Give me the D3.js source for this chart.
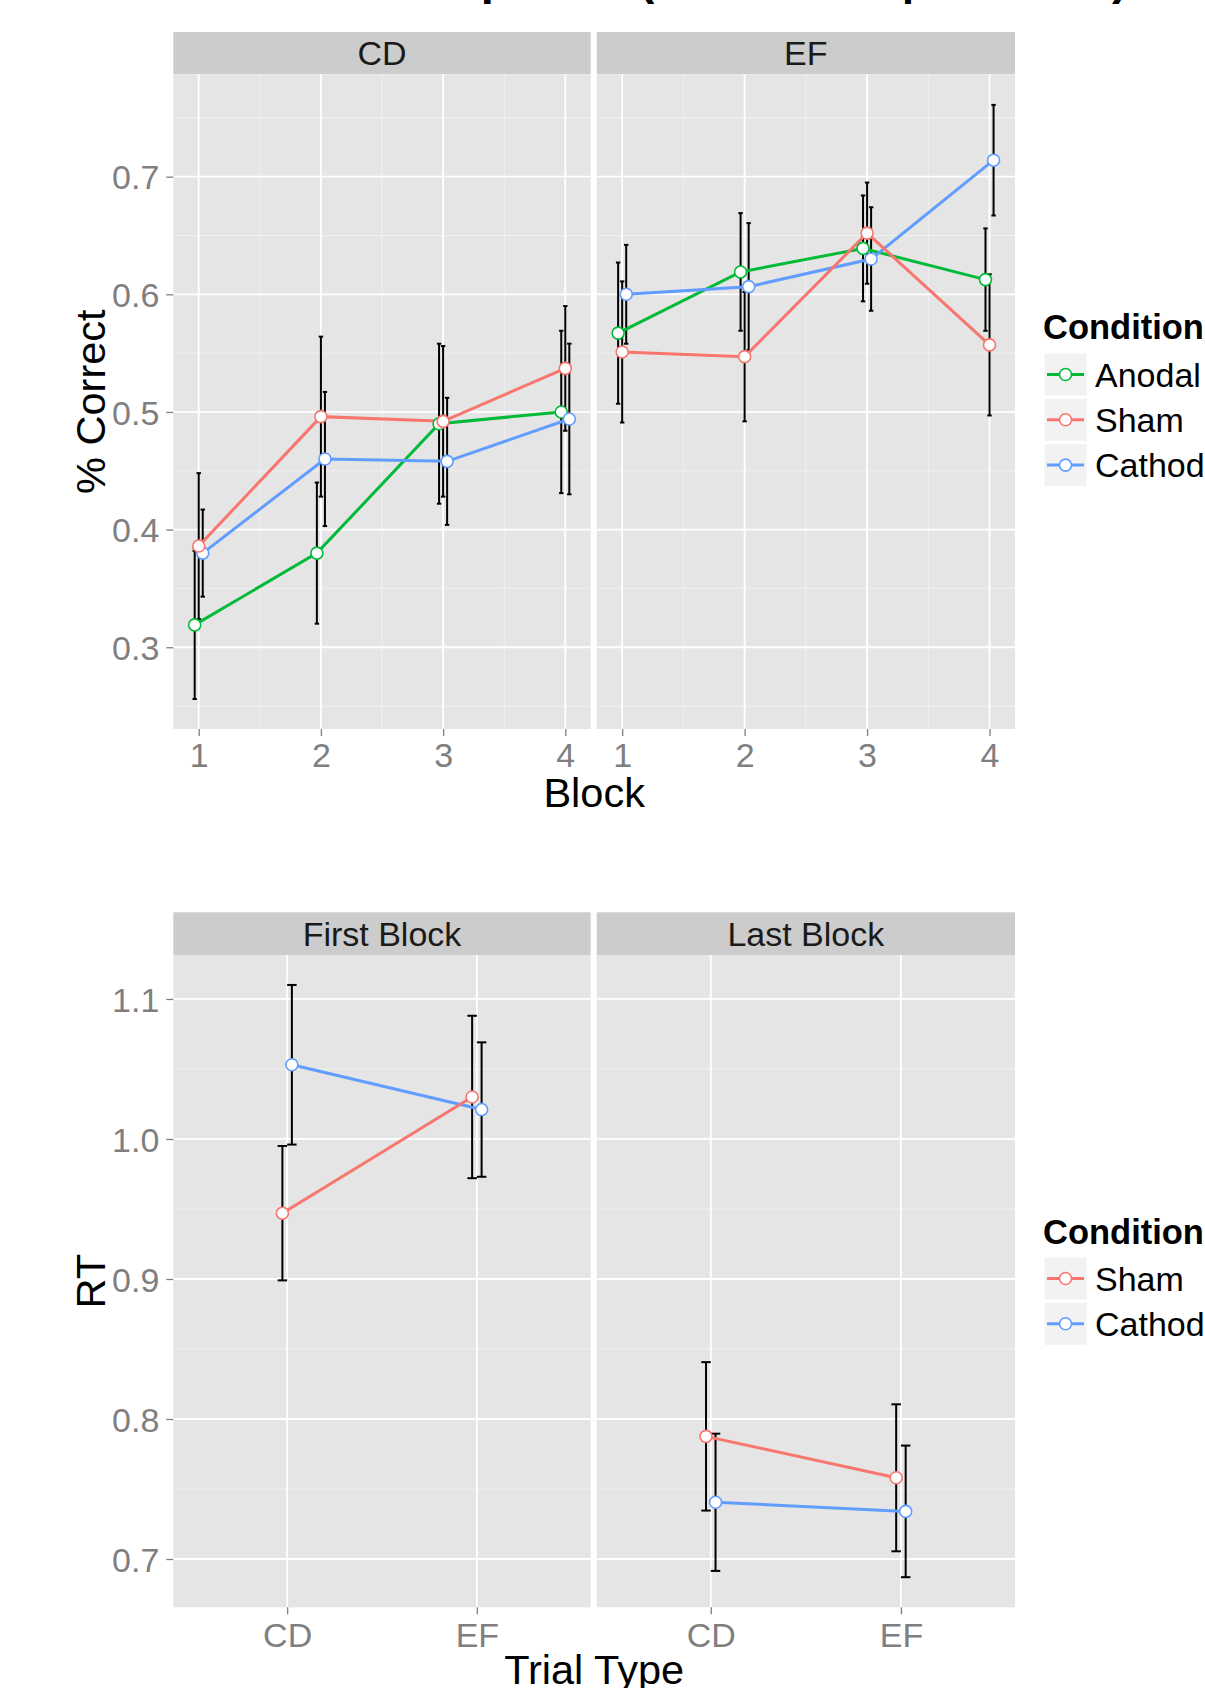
<!DOCTYPE html>
<html><head><meta charset="utf-8">
<script src="https://cdn.jsdelivr.net/npm/d3@7"></script>
<style>
body{margin:0;background:#fff}
svg{display:block}
text{font-family:"Liberation Sans",Arial,Helvetica,sans-serif}
</style>
</head><body>
<svg id="chart" width="1205" height="1688"></svg>
<script>
// ---------------- DATA ----------------
const titleParts = ["Response ", "(Across Ex", "periments", ")"];
const blocks = [1, 2, 3, 4];
const panelsTop = ["CD", "EF"];
const conditionsTop = ["Anodal", "Sham", "Cathodal"];

// % Correct, per block 1..4
const accAnodalCD   = [0.319, 0.380, 0.490, 0.500];
const seAnodalCD    = [0.063, 0.060, 0.068, 0.069];
const accShamCD     = [0.386, 0.496, 0.492, 0.537];
const seShamCD      = [0.062, 0.068, 0.064, 0.053];
const accCathodalCD = [0.380, 0.460, 0.458, 0.494];
const seCathodalCD  = [0.037, 0.057, 0.054, 0.064];

const accAnodalEF   = [0.567, 0.619, 0.639, 0.6125];
const seAnodalEF    = [0.060, 0.050, 0.045, 0.0435];
const accShamEF     = [0.551, 0.547, 0.652, 0.557];
const seShamEF      = [0.060, 0.055, 0.043, 0.060];
const accCathodalEF = [0.600, 0.6065, 0.630, 0.714];
const seCathodalEF  = [0.042, 0.054, 0.044, 0.047];

const yTicksTop = [0.3, 0.4, 0.5, 0.6, 0.7];

const panelsBottom = ["First Block", "Last Block"];
const trialTypes = ["CD", "EF"];
const conditionsBottom = ["Sham", "Cathodal"];

// RT, per trial type CD, EF
const rtShamFirst      = [0.947, 1.030];
const seShamFirst      = [0.048, 0.058];
const rtCathodalFirst  = [1.053, 1.021];
const seCathodalFirst  = [0.057, 0.048];
const rtShamLast       = [0.7876, 0.758];
const seShamLast       = [0.053, 0.0525];
const rtCathodalLast   = [0.7405, 0.734];
const seCathodalLast   = [0.049, 0.047];

const yTicksBottom = [0.7, 0.8, 0.9, 1.0, 1.1];
const yTickLabelsBottom = ["0.7", "0.8", "0.9", "1.0", "1.1"];

// ---------------- STYLE ----------------
const colors = {Anodal: "#00BA38", Sham: "#F8766D", Cathodal: "#619CFF"};
const drawOrder = ["Anodal", "Cathodal", "Sham"];
const svg = d3.select("#chart");
const panelX = [[173.3, 590.7], [596.7, 1015]];
const grey50 = "#7F7F7F";

const topData = {
  CD: {Anodal: [accAnodalCD, seAnodalCD], Sham: [accShamCD, seShamCD], Cathodal: [accCathodalCD, seCathodalCD]},
  EF: {Anodal: [accAnodalEF, seAnodalEF], Sham: [accShamEF, seShamEF], Cathodal: [accCathodalEF, seCathodalEF]}
};
const bottomData = {
  "First Block": {Sham: [rtShamFirst, seShamFirst], Cathodal: [rtCathodalFirst, seCathodalFirst]},
  "Last Block":  {Sham: [rtShamLast, seShamLast],   Cathodal: [rtCathodalLast, seCathodalLast]}
};

// title (mostly cropped off the top of the picture)
const titleX = [394, 639, 902, 1112];
const titleLen = [null, 240, 206, null];
const title = svg.append("text").attr("y", -6.5)
  .attr("font-size", 47.3).attr("font-weight", "bold").attr("fill", "#000");
titleParts.forEach((t, i) => {
  const ts = title.append("tspan").attr("x", titleX[i]).text(t);
  if (titleLen[i]) ts.attr("textLength", titleLen[i]).attr("lengthAdjust", "spacingAndGlyphs");
});

function drawFacetRow(opts) {
  const {panels, stripTop, stripBottom, panelBottom, yScale, xDomain, xTicks, xTickLabels,
         minorX, minorY, yTicks, yTickLabels, dataset, conds, dodge, capW, xCats,
         tickBaseline, xTitle, xTitleBaseline, yTitle} = opts;
  panels.forEach((pName, pi) => {
    const [x0, x1] = panelX[pi];
    const x = d3.scaleLinear().domain(xDomain).range([x0, x1]);
    const g = svg.append("g");
    // strip
    g.append("rect").attr("x", x0).attr("y", stripTop).attr("width", x1 - x0)
      .attr("height", stripBottom - stripTop).attr("fill", "#CCCCCC");
    g.append("text").attr("x", (x0 + x1) / 2).attr("y", (stripTop + stripBottom) / 2 + 12.2)
      .attr("text-anchor", "middle").attr("font-size", 34).attr("fill", "#1A1A1A").text(pName);
    // panel background
    g.append("rect").attr("x", x0).attr("y", stripBottom).attr("width", x1 - x0)
      .attr("height", panelBottom - stripBottom).attr("fill", "#E5E5E5");
    // minor grid
    minorY.forEach(v => g.append("line").attr("x1", x0).attr("x2", x1)
      .attr("y1", yScale(v)).attr("y2", yScale(v)).attr("stroke", "#F2F2F2").attr("stroke-width", 0.9));
    minorX.forEach(v => g.append("line").attr("x1", x(v)).attr("x2", x(v))
      .attr("y1", stripBottom).attr("y2", panelBottom).attr("stroke", "#F2F2F2").attr("stroke-width", 0.9));
    // major grid
    yTicks.forEach(v => g.append("line").attr("x1", x0).attr("x2", x1)
      .attr("y1", yScale(v)).attr("y2", yScale(v)).attr("stroke", "#FFFFFF").attr("stroke-width", 1.8));
    xTicks.forEach(v => g.append("line").attr("x1", x(v)).attr("x2", x(v))
      .attr("y1", stripBottom).attr("y2", panelBottom).attr("stroke", "#FFFFFF").attr("stroke-width", 1.8));
    // x axis ticks + labels
    const xAxis = d3.axisBottom(x).tickValues(xTicks).tickSize(7).tickPadding(4)
      .tickFormat((d, i) => xTickLabels[i]);
    const ax = g.append("g").attr("transform", `translate(0,${panelBottom})`).call(xAxis);
    ax.select(".domain").remove();
    ax.selectAll(".tick line").attr("stroke", grey50).attr("stroke-width", 1.3);
    ax.selectAll(".tick text").attr("font-size", 34).attr("fill", grey50)
      .attr("font-family", "Liberation Sans, Arial, sans-serif")
      .attr("y", tickBaseline - panelBottom).attr("dy", null);
    // y axis on first panel
    if (pi === 0) {
      const yAxis = d3.axisLeft(yScale).tickValues(yTicks).tickSize(7).tickPadding(7)
        .tickFormat((d, i) => yTickLabels[i]);
      const ay = g.append("g").attr("transform", `translate(${x0},0)`).call(yAxis);
      ay.select(".domain").remove();
      ay.selectAll(".tick line").attr("stroke", grey50).attr("stroke-width", 1.3);
      ay.selectAll(".tick text").attr("font-size", 34).attr("fill", grey50)
        .attr("font-family", "Liberation Sans, Arial, sans-serif")
        .attr("dy", "0.36em");
    }
    // data
    const pd = dataset[pName];
    const dataLayer = g.append("g");
    const series = drawOrder.filter(c => conds.includes(c)).map(c => {
      const [vals, ses] = pd[c];
      return {c, pts: vals.map((v, i) => ({xv: xCats[i] + dodge[c], v, se: ses[i]}))};
    });
    // error bars
    series.forEach(s => {
      s.pts.forEach(p => {
        const xc = x(p.xv), xl = x(p.xv - capW / 2), xr = x(p.xv + capW / 2);
        const yt = yScale(p.v + p.se), yb = yScale(p.v - p.se);
        dataLayer.append("line").attr("x1", xc).attr("x2", xc).attr("y1", yt).attr("y2", yb)
          .attr("stroke", "#000").attr("stroke-width", 2);
        [yt, yb].forEach(yy => dataLayer.append("line").attr("x1", xl).attr("x2", xr)
          .attr("y1", yy).attr("y2", yy).attr("stroke", "#000").attr("stroke-width", 2));
      });
    });
    // lines
    const lineGen = d3.line().x(p => x(p.xv)).y(p => yScale(p.v));
    series.forEach(s => dataLayer.append("path").attr("d", lineGen(s.pts))
      .attr("fill", "none").attr("stroke", colors[s.c]).attr("stroke-width", 3));
    // points
    series.forEach(s => s.pts.forEach(p => dataLayer.append("circle")
      .attr("cx", x(p.xv)).attr("cy", yScale(p.v)).attr("r", 6)
      .attr("fill", "#FFFFFF").attr("stroke", colors[s.c]).attr("stroke-width", 1.6)));
  });
  // axis titles
  svg.append("text").attr("x", (panelX[0][0] + panelX[1][1]) / 2).attr("y", xTitleBaseline)
    .attr("text-anchor", "middle").attr("font-size", 41.5).attr("fill", "#000").text(xTitle);
  const yc = (stripBottom + panelBottom) / 2;
  svg.append("text").attr("transform", `translate(105,${yc}) rotate(-90)`)
    .attr("text-anchor", "middle").attr("font-size", 41.5).attr("fill", "#000").text(yTitle);
}

function drawLegend(conds, titleBaseline, firstKeyCenter) {
  const g = svg.append("g");
  g.append("text").attr("x", 1043).attr("y", titleBaseline).attr("font-size", 34.5)
    .attr("font-weight", "bold").attr("fill", "#000").text("Condition");
  conds.forEach((c, i) => {
    const cy = firstKeyCenter + i * 45.3;
    g.append("rect").attr("x", 1044).attr("y", cy - 21.5).attr("width", 43).attr("height", 43)
      .attr("fill", "#F2F2F2").attr("stroke", "#FFFFFF").attr("stroke-width", 1);
    g.append("line").attr("x1", 1047).attr("x2", 1084).attr("y1", cy).attr("y2", cy)
      .attr("stroke", colors[c]).attr("stroke-width", 3);
    g.append("circle").attr("cx", 1065.5).attr("cy", cy).attr("r", 6)
      .attr("fill", "#FFFFFF").attr("stroke", colors[c]).attr("stroke-width", 1.6);
    g.append("text").attr("x", 1095).attr("y", cy + 12.2).attr("font-size", 34)
      .attr("fill", "#000").text(c);
  });
}

// ---------------- TOP PLOT ----------------
const yTop = d3.scaleLinear().domain([0.2305, 0.787]).range([729, 74.3]);
drawFacetRow({
  panels: panelsTop, stripTop: 32, stripBottom: 74.3, panelBottom: 729,
  yScale: yTop, xDomain: [0.792, 4.208], xTicks: blocks, xTickLabels: blocks.map(String),
  minorX: [1.5, 2.5, 3.5], minorY: [0.25, 0.35, 0.45, 0.55, 0.65, 0.75],
  yTicks: yTicksTop, yTickLabels: yTicksTop.map(v => v.toFixed(1)),
  dataset: topData, conds: conditionsTop,
  dodge: {Anodal: -0.033, Sham: 0, Cathodal: 0.033}, capW: 0.036, xCats: blocks,
  tickBaseline: 767, xTitle: "Block", xTitleBaseline: 807, yTitle: "% Correct"
});
drawLegend(conditionsTop, 339, 374.5);

// ---------------- BOTTOM PLOT ----------------
const yBot = d3.scaleLinear().domain([0.6655, 1.1314]).range([1607.3, 955]);
drawFacetRow({
  panels: panelsBottom, stripTop: 912.3, stripBottom: 955, panelBottom: 1607.3,
  yScale: yBot, xDomain: [0.4, 2.6], xTicks: [1, 2], xTickLabels: trialTypes,
  minorX: [], minorY: [0.75, 0.85, 0.95, 1.05],
  yTicks: yTicksBottom, yTickLabels: yTickLabelsBottom,
  dataset: bottomData, conds: conditionsBottom,
  dodge: {Sham: -0.025, Cathodal: 0.025}, capW: 0.05, xCats: [1, 2],
  tickBaseline: 1647.5, xTitle: "Trial Type", xTitleBaseline: 1683.5, yTitle: "RT"
});
drawLegend(conditionsBottom, 1244, 1278.5);
</script>
</body></html>
